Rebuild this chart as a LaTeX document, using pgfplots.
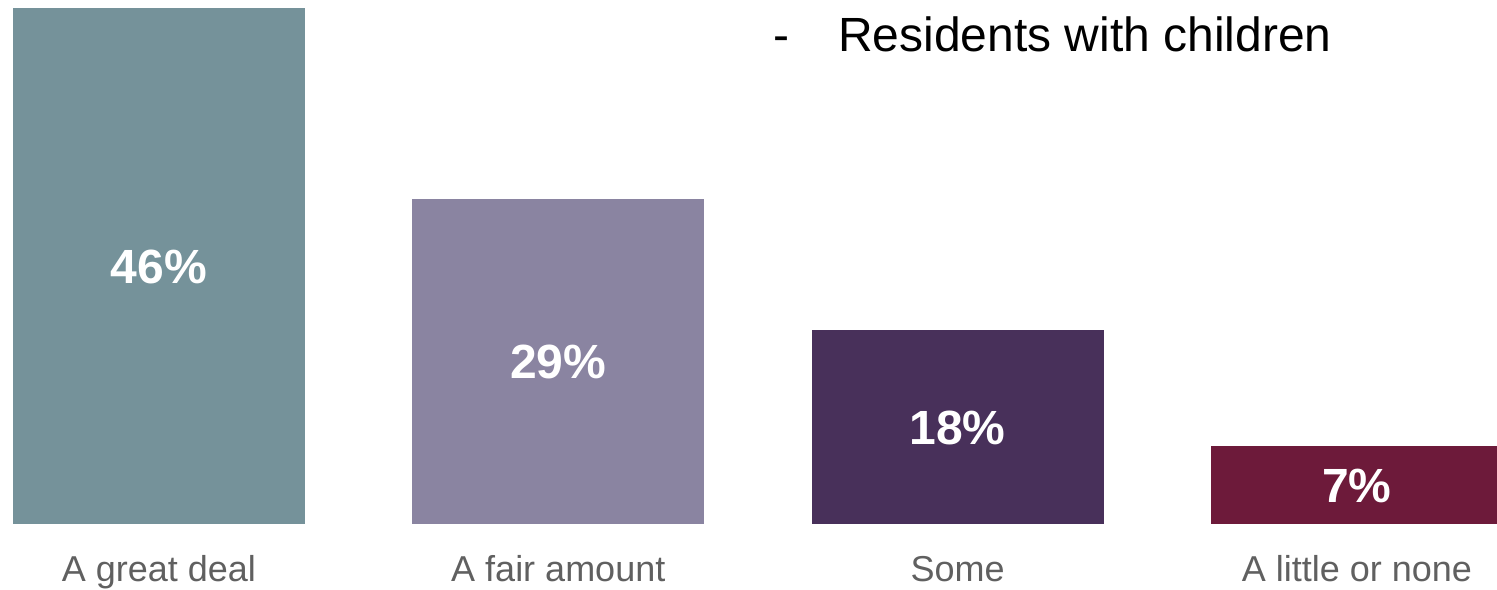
\documentclass[border=0pt]{standalone}
\usepackage{fontspec}
\setmainfont{Liberation Sans}
\usepackage{pgfplots}
\pgfplotsset{compat=1.18}
\definecolor{cA}{HTML}{75929A}
\definecolor{cB}{HTML}{8A84A1}
\definecolor{cC}{HTML}{48305A}
\definecolor{cD}{HTML}{6D1A3A}
\definecolor{catgray}{HTML}{606060}
\begin{document}
\begin{tikzpicture}
\begin{axis}[
  scale only axis,
  width=748.5pt, height=295pt,
  xmin=-0.398, xmax=3.3506,
  ymin=-5.884, ymax=46.715,
  hide axis,
  clip=false,
]
\addplot[ybar, bar width=146pt, bar shift=0pt, fill=cA, draw=none] coordinates {(0,46)};
\addplot[ybar, bar width=146pt, bar shift=0pt, fill=cB, draw=none] coordinates {(1,29)};
\addplot[ybar, bar width=146pt, bar shift=0pt, fill=cC, draw=none] coordinates {(2,17.3)};
\addplot[ybar, bar width=146pt, bar shift=0pt, fill=cD, draw=none] coordinates {(3,6.95)};
% value labels at bar middles
\addplot[draw=none, mark=none, nodes near coords, point meta=explicit symbolic,
  nodes near coords align={center},
  every node near coord/.append style={anchor=center, inner sep=0pt, text height=17.2pt, text depth=0pt, text=white, font=\fontsize{24pt}{28pt}\selectfont\bfseries}]
  coordinates {(0,23)[46\%] (1,14.5)[29\%] (2,8.65)[18\%] (3,3.475)[7\%]};
% category labels
\addplot[draw=none, mark=none, nodes near coords, point meta=explicit symbolic,
  nodes near coords align={center},
  every node near coord/.append style={anchor=center, text=catgray, inner sep=0pt, text height=12.9pt, text depth=0pt, font=\fontsize{18pt}{22pt}\selectfont}]
  coordinates {(0,-4.02)[A great deal] (1,-4.02)[A fair amount] (2,-4.02)[Some] (3,-4.02)[A little or none]};
\node[anchor=base west, inner sep=0pt, font=\fontsize{24pt}{29pt}\selectfont] at (axis cs:1.700,42.08) {Residents with children};
\node[anchor=base, inner sep=0pt, font=\fontsize{24pt}{29pt}\selectfont] at (axis cs:1.558,42.08) {-};
\end{axis}
\pgfresetboundingbox
\path (current axis.south west) rectangle (current axis.north east);
\end{tikzpicture}
\end{document}
